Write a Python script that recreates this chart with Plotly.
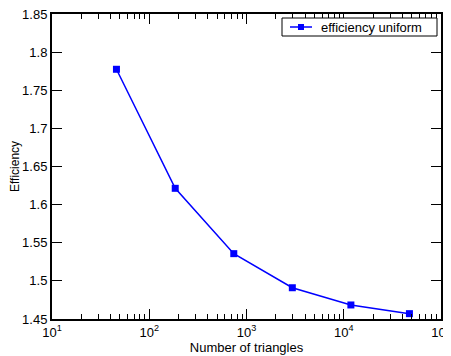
import plotly.graph_objects as go

triangles = [46, 185, 740, 2960, 11840, 47360]
efficiency = [1.7775, 1.6214, 1.5357, 1.491, 1.4684, 1.457]
series_name = "efficiency uniform"
x_tickvals = [10, 100, 1000, 10000, 100000]
x_ticktext = ["10<sup>1</sup>", "10<sup>2</sup>", "10<sup>3</sup>", "10<sup>4</sup>", "10<sup>5</sup>"]
y_tickvals = [1.45, 1.5, 1.55, 1.6, 1.65, 1.7, 1.75, 1.8, 1.85]
y_ticktext = ["1.45", "1.5", "1.55", "1.6", "1.65", "1.7", "1.75", "1.8", "1.85"]

BLUE = "#0000ff"
W, H = 451, 356
ML, MR, MT, MB = 44, 18, 6, 45
PW, PH = W - ML - MR, H - MT - MB


def px(x):
    return (x - ML) / PW


def py(y):
    return 1 - (y - MT) / PH


fig = go.Figure()
fig.add_trace(go.Scatter(
    x=triangles, y=efficiency, mode="lines+markers", name=series_name,
    line=dict(color=BLUE, width=1.5),
    marker=dict(symbol="square", size=7, color=BLUE),
    showlegend=False,
))

# hand-drawn legend box (figure pixel positions)
bx0, bx1, by0, by1 = 274, 429, 10, 28
ym = (by0 + by1) / 2
shapes = [
    dict(type="rect", xref="paper", yref="paper", x0=px(bx0), x1=px(bx1), y0=py(by1), y1=py(by0),
         line=dict(color="black", width=1), fillcolor="white", layer="above"),
    dict(type="line", xref="paper", yref="paper", x0=px(282), x1=px(304), y0=py(ym), y1=py(ym),
         line=dict(color=BLUE, width=1.5), layer="above"),
    dict(type="rect", xref="paper", yref="paper", x0=px(290), x1=px(296), y0=py(ym + 3), y1=py(ym - 3),
         line=dict(color=BLUE, width=0), fillcolor=BLUE, layer="above"),
]
annotations = [
    dict(text=series_name, xref="paper", yref="paper", x=px(311), y=py(ym),
         xanchor="left", yanchor="middle", showarrow=False, font=dict(size=13)),
]

font = "Liberation Sans, Arial, Helvetica, sans-serif"
fig.update_layout(
    width=W, height=H,
    margin=dict(l=ML, r=MR, t=MT, b=MB),
    paper_bgcolor="white", plot_bgcolor="white",
    font=dict(family=font, color="black", size=13),
    showlegend=False,
    shapes=shapes, annotations=annotations,
    xaxis=dict(
        type="log", range=[1, 5], tickvals=x_tickvals, ticktext=x_ticktext,
        ticks="inside", ticklen=10, tickwidth=1, tickcolor="black",
        showline=True, linecolor="black", linewidth=2, mirror="allticks",
        showgrid=False, zeroline=False, automargin=False, ticklabeloverflow="allow",
        minor=dict(ticks="inside", ticklen=5, tickcolor="black", tickwidth=1,
                   dtick="D1", showgrid=False),
        title=dict(text="Number of triangles", font=dict(size=13), standoff=0),
        tickfont=dict(size=13),
    ),
    yaxis=dict(
        range=[1.45, 1.85], tickvals=y_tickvals, ticktext=y_ticktext,
        ticks="inside", ticklen=10, tickwidth=1, tickcolor="black",
        showline=True, linecolor="black", linewidth=2, mirror="allticks",
        showgrid=False, zeroline=False, automargin=False, ticklabeloverflow="allow",
        title=dict(text="Efficiency", font=dict(size=12), standoff=2),
        tickfont=dict(size=13),
    ),
)

fig.write_html("out.html")
